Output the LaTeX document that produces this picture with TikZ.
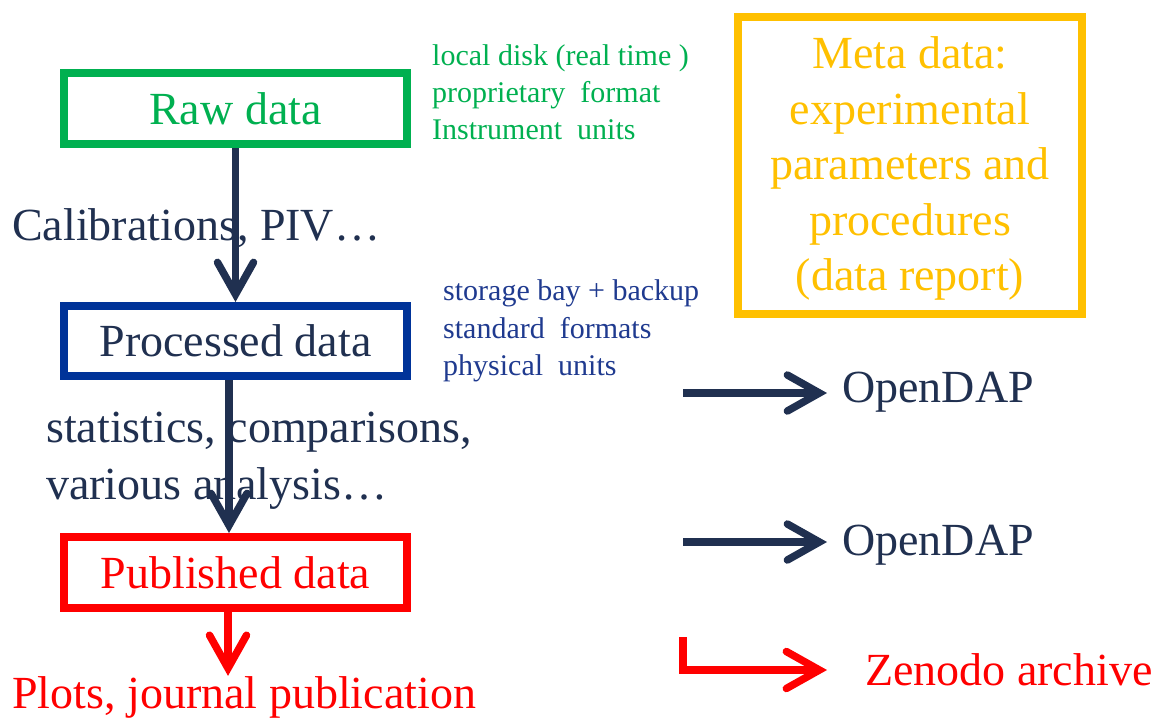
\documentclass[tikz,border=0pt]{standalone}
\usepackage{fontspec}
\setmainfont{Liberation Serif}
\usetikzlibrary{arrows.meta}
\definecolor{navy}{HTML}{203050}
\definecolor{boxblue}{HTML}{003399}
\definecolor{noteblue}{HTML}{1F3A8F}
\definecolor{ofgreen}{HTML}{00B050}
\definecolor{gold}{HTML}{FFC000}
\definecolor{ofred}{HTML}{FF0000}
\newcommand\fbig{\fontsize{46}{55.5}\selectfont}
\newcommand\fsmallnote{\fontsize{30}{37}\selectfont}
\begin{document}
\begin{tikzpicture}[x=1pt,y=-1pt,
  databox/.style={draw, line width=8pt, inner sep=0pt, minimum width=343pt, minimum height=71pt, font=\fbig},
  txt/.style={inner sep=0pt, font=\fbig},
  note/.style={inner sep=0pt, font=\fsmallnote, align=left, anchor=north west},
  flow/.style={draw=navy, line width=7.5pt, -{Straight Barb[length=32pt,width=36pt,line cap=round,line join=miter]}},
  redflow/.style={draw=ofred, line width=7.5pt, -{Straight Barb[length=33pt,width=37pt,line cap=round,line join=miter]}}
]
\useasboundingbox (0,0) rectangle (1158,718);

% main boxes
\node[databox, draw=ofgreen, text=ofgreen] (raw) at (235.5,108.5) {Raw data};
\node[databox, draw=boxblue, text=navy, minimum height=70pt] (proc) at (235.5,341) {Processed data};
\node[databox, draw=ofred, text=ofred] (pub) at (235.5,572.5) {Published data};

% labels on the left
\node[txt, text=navy, anchor=base west] (calib) at (12,240) {Calibrations, PIV\ldots};
\node[txt, text=navy, anchor=north west, align=left, font=\fontsize{46}{57}\selectfont] (stats) at (46,411.6) {statistics, comparisons,\\various analysis\ldots};
\node[txt, text=ofred, anchor=base west] (plots) at (12,708) {Plots, journal publication};

% vertical arrows
\draw[flow] (raw.south) -- (proc.north);
\draw[flow] ([xshift=-6.5pt]proc.south) -- ([xshift=-6.5pt]pub.north);
\draw[redflow] ([xshift=-7.5pt]pub.south) -- ([xshift=-7.5pt]pub.south |- plots.north);

% side notes
\node[note, text=ofgreen] (rawnote) at (432,44.2) {local disk (real time )\\proprietary\ \ format\\Instrument\ \ units};
\node[note, text=noteblue, font=\fontsize{30}{37.5}\selectfont] (procnote) at (443,279.5) {storage bay + backup\\standard\ \ formats\\physical\ \ units};

% meta data box
\node[draw=gold, line width=8pt, inner sep=0pt, minimum width=344pt, minimum height=297pt] (metabox) at (910,165.5) {};
\node[txt, text=gold, anchor=north, align=center] (meta) at (910,36.6) {Meta data:\\experimental\\parameters and\\procedures\\(data report)};

% right-hand arrows
\coordinate (a1s) at (683,393);
\coordinate (a1e) at (827,393);
\coordinate (a2s) at (683,542);
\coordinate (a2e) at (827,542);
\coordinate (a3s) at (683,637);
\coordinate (a3c) at (683,670);
\coordinate (a3e) at (827,670);
\draw[flow] (a1s) -- (a1e);
\draw[flow] (a2s) -- (a2e);
\draw[redflow, line join=miter] (a3s) -- (a3c) -- (a3e);

\node[txt, text=navy, anchor=base west] (od1) at (842,402) {OpenDAP};
\node[txt, text=navy, anchor=base west] (od2) at (842,555) {OpenDAP};
\node[txt, text=ofred, anchor=base west] (zen) at (865,685) {Zenodo archive};
\end{tikzpicture}
\end{document}
